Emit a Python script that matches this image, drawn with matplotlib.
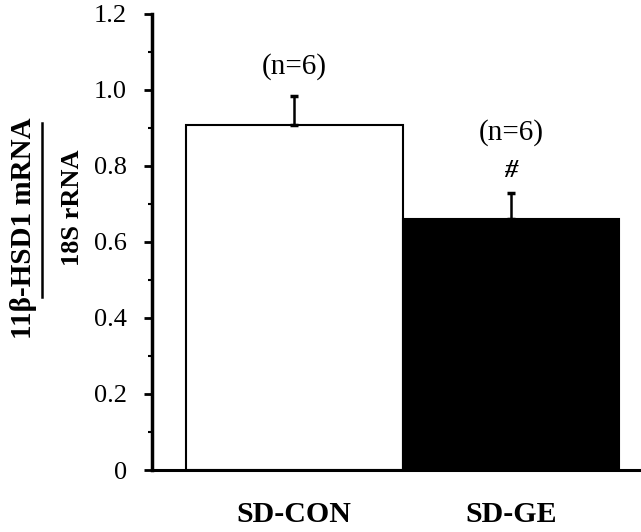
import matplotlib.pyplot as plt
import numpy as np
from matplotlib.lines import Line2D

groups = ['SD-CON', 'SD-GE']
means = [0.908, 0.66]
errs = [0.076, 0.069]
n_labels = ['(n=6)', '(n=6)']
sig = ['', '#']
colors = ['white', 'black']

plt.rcParams['font.family'] = ['Liberation Serif', 'DejaVu Serif']

fig = plt.figure(figsize=(6.41, 5.32), dpi=100)
ax = fig.add_axes([0.237, 0.1165, 0.763, 0.8575])

x = np.arange(len(groups))
ax.bar(x, means, width=1.0, color=colors, edgecolor='black', linewidth=1.5)
ax.errorbar(x, means, yerr=[[0, 0], errs], fmt='none', ecolor='black',
            elinewidth=1.8, capsize=3, capthick=2.5)

ax.set_xlim(-0.657, 1.601)
ax.set_ylim(0, 1.2)
ax.set_yticks(np.arange(0, 1.21, 0.2))
ax.set_yticklabels(['0', '0.2', '0.4', '0.6', '0.8', '1.0', '1.2'], fontsize=19)
ax.set_yticks(np.arange(0.1, 1.2, 0.2), minor=True)
ax.tick_params(axis='y', which='major', direction='out', length=6, width=2, pad=12)
ax.tick_params(axis='y', which='minor', direction='out', length=3, width=1.5)
ax.set_xticks([])
for s in ['top', 'right']:
    ax.spines[s].set_visible(False)
ax.spines['left'].set_linewidth(2.5)
ax.spines['bottom'].set_linewidth(2.2)

# n labels and significance marks
ax.text(x[0], means[0] + errs[0] + 0.078, n_labels[0], ha='center', va='center', fontsize=21)
ax.text(x[1], means[1] + errs[1] + 0.158, n_labels[1], ha='center', va='center', fontsize=21)
ax.text(x[1], means[1] + errs[1] + 0.06, sig[1], ha='center', va='center',
        fontsize=19, fontweight='bold', style='italic')

for xi, g in zip(x, groups):
    ax.text(xi, -0.118, g, ha='center', va='center', fontsize=21.5, fontweight='bold')

# y label as a ratio
fig.text(0.037, 1 - 228 / 532, '11β-HSD1 mRNA', rotation=90, ha='center', va='center',
         fontsize=21, fontweight='bold')
fig.text(0.113, 1 - 208 / 532, '18S rRNA', rotation=90, ha='center', va='center',
         fontsize=19, fontweight='bold')
fig.add_artist(Line2D([0.066, 0.066], [1 - 297 / 532, 1 - 123 / 532], color='black',
                      linewidth=1.8, transform=fig.transFigure))

fig.savefig('out.png', dpi=100)
